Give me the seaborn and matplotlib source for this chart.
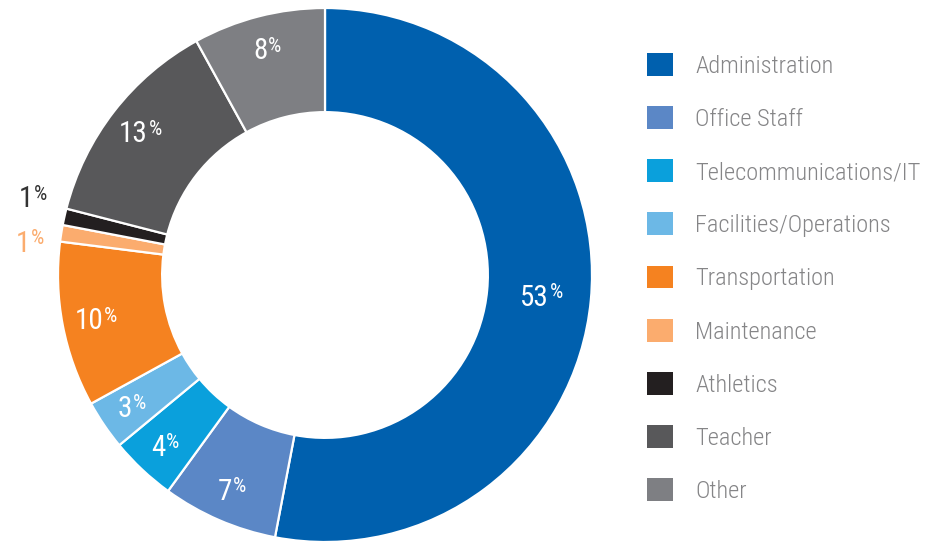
import numpy as np
import matplotlib
matplotlib.use("Agg")
import matplotlib.pyplot as plt
import matplotlib.patches as mpatches
from matplotlib import font_manager
import seaborn as sns

categories = ["Administration", "Office Staff", "Telecommunications/IT",
              "Facilities/Operations", "Transportation", "Maintenance",
              "Athletics", "Teacher", "Other"]
values = [53, 7, 4, 3, 10, 1, 1, 13, 8]
colors = ["#0060AE", "#5B87C6", "#0AA0DC", "#6CB8E6", "#F58220",
          "#FBAC6E", "#231F20", "#58585A", "#7E7F83"]
outside_label_colors = {"Maintenance": "#FBAC6E", "Athletics": "#333333"}

sns.set_theme(style="white")
names = {f.name for f in font_manager.fontManager.ttflist}
narrow = [n for n in ["Roboto Condensed", "Liberation Sans Narrow", "Arial Narrow",
                      "Open Sans Condensed"] if n in names]
family = narrow + ["Roboto", "DejaVu Sans"]
plt.rcParams['font.family'] = family

W, H = 927, 544
fig = plt.figure(figsize=(W / 100, H / 100), dpi=100)
renderer = fig.canvas.get_renderer()


def text_width(s, **kw):
    t = fig.text(0, 0, s, **kw)
    w = t.get_window_extent(renderer).width
    t.remove()
    return w


# legend font size so the longest label spans roughly as in the reference
leg_fs = min(19, 19 * 226 / text_width("Telecommunications/IT", fontsize=19, fontweight="light"))

cx, cy, R = 325, 275, 267
ax = fig.add_axes([(cx - R) / W, (H - cy - R) / H, 2 * R / W, 2 * R / H])

inner = 0.61
wedges, _ = ax.pie(values, colors=colors, startangle=90, counterclock=False,
                   radius=1, wedgeprops=dict(width=1 - inner, edgecolor="white", linewidth=1.6))
ax.set_xlim(-1, 1)
ax.set_ylim(-1, 1)
ax.set_aspect("equal")
ax.axis("off")

num_fs, pct_fs = 21, 15
px = 100 / 72  # pixels per point
cap = 0.711 * num_fs * px
pct_h = 0.711 * pct_fs * px
gap = 0.5
for w, cat, v in zip(wedges, categories, values):
    ang = np.deg2rad((w.theta1 + w.theta2) / 2)
    if cat in outside_label_colors:
        r = 1.12
        col = outside_label_colors[cat]
        dy = 13 if cat == "Athletics" else -13
    else:
        r = 0.815 if cat == "Administration" else 0.875
        col = "white"
        dy = 0
    x, y = r * np.cos(ang), r * np.sin(ang)
    wn = text_width(f"{v}", fontsize=num_fs)
    wp = text_width("%", fontsize=pct_fs)
    x0 = -(wn + gap + wp) / 2
    ax.annotate(f"{v}", (x, y), xytext=(x0 / px, (dy - cap / 2) / px), textcoords="offset points",
                ha="left", va="baseline", fontsize=num_fs, color=col, annotation_clip=False)
    ax.annotate("%", (x, y), xytext=((x0 + wn + gap) / px, (dy - cap / 2 + cap - pct_h + 1.5) / px),
                textcoords="offset points", ha="left", va="baseline", fontsize=pct_fs,
                color=col, annotation_clip=False)

handles = [mpatches.Patch(facecolor=c, edgecolor="none") for c in colors]
sq = 26 / px / leg_fs  # square of 26 px in font-size units
fig.legend(handles, categories, loc="center left",
           bbox_to_anchor=(647 / W, (H - 278) / H), frameon=False,
           prop=dict(size=leg_fs, weight="light"), labelcolor="#858587",
           handlelength=sq, handleheight=sq,
           handletextpad=22 / px / leg_fs, labelspacing=1.05 + 2.75 / (leg_fs * px),
           borderpad=0, borderaxespad=0)

fig.savefig("out.png", dpi=100, facecolor="white")
